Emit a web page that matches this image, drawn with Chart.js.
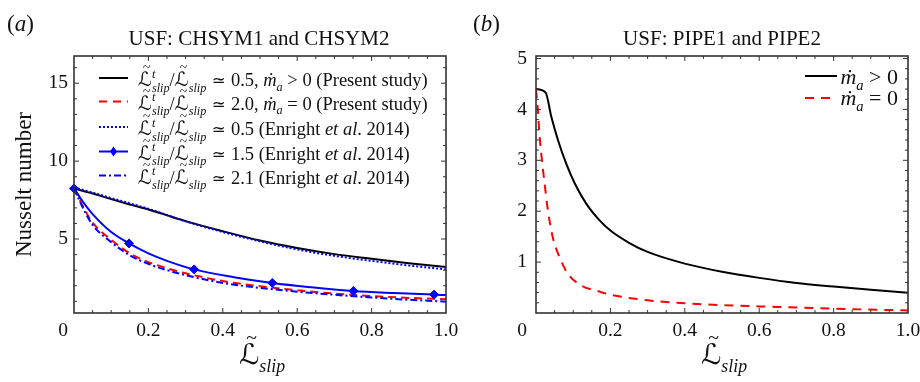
<!DOCTYPE html>
<html>
<head>
<meta charset="utf-8">
<script src="https://cdn.jsdelivr.net/npm/chart.js@4.4.1/dist/chart.umd.min.js"></script>
<style>
    html, body { margin: 0; padding: 0; background: #fff; }
    #wrap { position: relative; width: 920px; height: 382px; }
    #wrap canvas { position: absolute; top: 0; }
    #chartA { left: 0; }
    #chartB { left: 460px; }
</style>
</head>
<body>
<div id="wrap">
    <canvas id="chartA" width="460" height="382"></canvas>
    <canvas id="chartB" width="460" height="382"></canvas>
</div>
<script>
// ========================================
// DATA
// ========================================

// (a) USF: CHSYM1 and CHSYM2
const slipA = [0, 0.025, 0.05, 0.1, 0.15, 0.2, 0.25, 0.3, 0.4, 0.5, 0.6, 0.7, 0.8, 0.9, 1.0];
const nuPresentMdot = [8.25, 8.08, 7.92, 7.56, 7.22, 6.9, 6.52, 6.15, 5.5, 4.9, 4.42, 4.03, 3.73, 3.45, 3.2];
const nuPresentNoMdot = [8.25, 7.05, 6.05, 4.95, 4.08, 3.52, 3.12, 2.8, 2.3, 1.97, 1.71, 1.5, 1.34, 1.22, 1.13];
const nuEnright05 = [8.3, 8.15, 7.98, 7.63, 7.29, 6.94, 6.54, 6.13, 5.45, 4.85, 4.33, 3.92, 3.6, 3.3, 3.05];
const nuEnright21 = [8.25, 6.95, 5.9, 4.8, 3.95, 3.4, 3.0, 2.68, 2.18, 1.86, 1.62, 1.42, 1.25, 1.1, 0.98];
const slipEnright15 = [0, 0.025, 0.05, 0.1, 0.148, 0.2, 0.25, 0.323, 0.43, 0.533, 0.64, 0.751, 0.86, 0.968, 1.0];
const nuEnright15 = [8.25, 7.35, 6.6, 5.45, 4.72, 4.08, 3.6, 3.05, 2.55, 2.18, 1.9, 1.66, 1.53, 1.43, 1.4];
const markSlip15 = [0, 0.148, 0.323, 0.533, 0.751, 0.968];
const markNu15 = [8.25, 4.72, 3.05, 2.18, 1.66, 1.43];

// (b) USF: PIPE1 and PIPE2
const slipPipeMdot = [0, 0.026, 0.041, 0.059, 0.081, 0.104, 0.135, 0.171, 0.2, 0.25, 0.3, 0.4, 0.5, 0.6, 0.7, 0.8, 0.9, 1.0];
const nuPipeMdot = [4.4, 4.33, 3.86, 3.4, 2.94, 2.55, 2.15, 1.82, 1.62, 1.38, 1.2, 0.97, 0.81, 0.69, 0.59, 0.52, 0.455, 0.4];
const slipPipeNoMdot = [0, 0.005, 0.009, 0.016, 0.023, 0.032, 0.045, 0.063, 0.086, 0.122, 0.166, 0.2, 0.3, 0.4, 0.5, 0.6, 0.8, 1.0];
const nuPipeNoMdot = [4.4, 3.99, 3.53, 3.0, 2.55, 2.02, 1.49, 1.1, 0.77, 0.54, 0.43, 0.36, 0.25, 0.19, 0.155, 0.13, 0.085, 0.05];

// tick labels
const ticksX = [0.2, 0.4, 0.6, 0.8, 1.0];
const tickLabelsX = ['0.2', '0.4', '0.6', '0.8', '1.0'];
const ticksYA = [5, 10, 15];
const ticksYB = [1, 2, 3, 4, 5];

// ========================================
// TEXT HELPERS
// ========================================

const SERIF = '"Liberation Serif", "Times New Roman", serif';
const SCRIPT = '"DejaVu Serif", "DejaVu Sans", serif';
const INK = '#111';
const TICK_SIZE = 19.5;

function fnt(p) {
    return (p.i ? 'italic ' : '') + p.s + 'px ' + (p.f || SERIF);
}

// draws a run of styled pieces (sub/superscripts, italics) on one baseline
function drawRich(ctx, parts, x, y, align) {
    let cx = 0, pend = 0;
    const pos = [];
    parts.forEach(p => {
        ctx.font = fnt(p);
        const w = ctx.measureText(p.t).width;
        pos.push(cx);
        if (p.stack) { pend = w; }
        else { cx += Math.max(w, pend); pend = 0; }
    });
    const x0 = align === 'center' ? x - cx / 2 : (align === 'right' ? x - cx : x);
    ctx.textAlign = 'left';
    ctx.textBaseline = 'alphabetic';
    ctx.fillStyle = INK;
    parts.forEach((p, k) => {
        ctx.font = fnt(p);
        const px = x0 + pos[k], py = y + (p.dy || 0);
        ctx.fillText(p.t, px, py);
        if (p.tilde) {
            const w = ctx.measureText(p.t).width;
            ctx.font = fnt({ s: p.s * 0.7 });
            ctx.textAlign = 'center';
            ctx.fillText('~', px + w * 0.62, py - p.s * 0.72);
            ctx.textAlign = 'left';
        }
    });
    return cx;
}

function slipL(s, withT) {
    const sub = s * 0.66;
    const out = [{ t: 'ℒ', s: s * 1.05, f: SCRIPT, tilde: true }];
    if (withT) out.push({ t: 't', s: sub, i: true, dy: -s * 0.45, stack: true });
    out.push({ t: 'slip', s: sub, i: true, dy: s * 0.3 });
    return out;
}

function ratioParts(s, val) {
    return [...slipL(s, true), { t: '/', s }, ...slipL(s, false),
        { t: ' ≃ ', s: s * 0.9, f: SCRIPT }, { t: val, s }];
}

function mdotParts(s, rest) {
    return [{ t: 'ṁ', s, i: true }, { t: 'a', s: s * 0.66, i: true, dy: s * 0.25 }, { t: rest, s }];
}

function enrightParts(s) {
    return [{ t: ' (Enright ', s }, { t: 'et al', s, i: true }, { t: '. 2014)', s }];
}

function legendLine(ctx, x1, x2, y, color, dash, diamond) {
    ctx.save();
    ctx.strokeStyle = color;
    ctx.lineWidth = 2;
    ctx.setLineDash(dash);
    ctx.beginPath();
    ctx.moveTo(x1, y);
    ctx.lineTo(x2, y);
    ctx.stroke();
    if (diamond) {
        const cx = (x1 + x2) / 2;
        ctx.setLineDash([]);
        ctx.fillStyle = color;
        ctx.beginPath();
        ctx.moveTo(cx, y - 5); ctx.lineTo(cx + 3.5, y); ctx.lineTo(cx, y + 5); ctx.lineTo(cx - 3.5, y);
        ctx.closePath();
        ctx.fill();
    }
    ctx.restore();
}

// ========================================
// FRAME, INWARD TICKS, TICK LABELS AND TEXT
// ========================================

function panelDecor(cfg) {
    return {
        id: 'decor',
        afterDraw(chart) {
            const ctx = chart.ctx, a = chart.chartArea;
            const xs = chart.scales.x, ys = chart.scales.y;
            ctx.save();
            ctx.strokeStyle = '#333';
            ctx.lineWidth = 1.6;
            ctx.strokeRect(a.left, a.top, a.right - a.left, a.bottom - a.top);

            // minor / major tick marks on all four sides, pointing inward
            ctx.lineWidth = 1;
            ctx.beginPath();
            for (let k = 1; k * cfg.xStep < 1 - 1e-9; k++) {
                const px = xs.getPixelForValue(k * cfg.xStep);
                const len = k % cfg.xEvery === 0 ? 5 : 3;
                ctx.moveTo(px, a.bottom); ctx.lineTo(px, a.bottom - len);
                ctx.moveTo(px, a.top); ctx.lineTo(px, a.top + len);
            }
            for (let k = 1; k * cfg.yStep < ys.max - 1e-9; k++) {
                const v = k * cfg.yStep;
                if (v <= ys.min) continue;
                const py = ys.getPixelForValue(v);
                const len = k % cfg.yEvery === 0 ? 5 : 3;
                ctx.moveTo(a.left, py); ctx.lineTo(a.left + len, py);
                ctx.moveTo(a.right, py); ctx.lineTo(a.right - len, py);
            }
            ctx.stroke();

            // tick labels
            const labelY = a.bottom + 18;
            ctx.fillStyle = INK;
            ctx.font = fnt({ s: TICK_SIZE });
            ctx.textBaseline = 'middle';
            ctx.textAlign = 'center';
            ticksX.forEach((v, k) => ctx.fillText(tickLabelsX[k], xs.getPixelForValue(v), labelY));
            ctx.textAlign = 'right';
            cfg.yTicks.forEach(v => ctx.fillText(String(v), a.left - cfg.yPad, ys.getPixelForValue(v)));
            // shared origin label
            ctx.fillText('0', a.left - cfg.yPad, labelY);

            cfg.draw(ctx, a);
            ctx.restore();
        }
    };
}

function drawPanelA(ctx, a) {
    const mid = (a.left + a.right) / 2;
    drawRich(ctx, [{ t: '(', s: 23 }, { t: 'a', s: 23, i: true }, { t: ')', s: 23 }], 7, 31, 'left');
    drawRich(ctx, [{ t: 'USF: CHSYM1 and CHSYM2', s: 21 }], mid - 1, 45, 'center');
    drawRich(ctx, slipL(27, false), mid + 2, 364, 'center');

    ctx.save();
    ctx.translate(25, (a.top + a.bottom) / 2);
    ctx.rotate(-Math.PI / 2);
    ctx.font = fnt({ s: 23 });
    ctx.textAlign = 'center';
    ctx.textBaseline = 'middle';
    ctx.fillText('Nusselt number', 0, 0);
    ctx.restore();

    const s = 18.5;
    const rows = [
        { y: 78, parts: [...ratioParts(s, '0.5'), { t: ', ', s }, ...mdotParts(s, ' > 0 (Present study)')], color: '#000', dash: [] },
        { y: 101.5, parts: [...ratioParts(s, '2.0'), { t: ', ', s }, ...mdotParts(s, ' = 0 (Present study)')], color: '#ff0000', dash: [8, 6] },
        { y: 127, parts: [...ratioParts(s, '0.5'), ...enrightParts(s)], color: '#0000ff', dash: [2, 2] },
        { y: 151.5, parts: [...ratioParts(s, '1.5'), ...enrightParts(s)], color: '#0000ff', dash: [], diamond: true },
        { y: 175.5, parts: [...ratioParts(s, '2.1'), ...enrightParts(s)], color: '#0000ff', dash: [7, 3, 2, 3] }
    ];
    rows.forEach(r => {
        legendLine(ctx, 99, 128, r.y, r.color, r.dash, r.diamond);
        drawRich(ctx, r.parts, 138, r.y + 8, 'left');
    });
}

function drawPanelB(ctx, a) {
    const mid = (a.left + a.right) / 2;
    drawRich(ctx, [{ t: '(', s: 23 }, { t: 'b', s: 23, i: true }, { t: ')', s: 23 }], 13, 31, 'left');
    drawRich(ctx, [{ t: 'USF: PIPE1 and PIPE2', s: 21 }], mid, 45, 'center');
    drawRich(ctx, slipL(27, false), mid + 2, 364, 'center');

    legendLine(ctx, 345, 377, 76, '#000', []);
    drawRich(ctx, mdotParts(22, ' > 0'), 438, 84, 'right');
    legendLine(ctx, 345, 373, 98, '#ff0000', [9, 7]);
    drawRich(ctx, mdotParts(22, ' = 0'), 438, 105, 'right');
}

// ========================================
// CHARTS
// ========================================

function lineSet(xs, ys, color, dash, order) {
    return {
        data: xs.map((x, k) => ({ x, y: ys[k] })),
        borderColor: color,
        backgroundColor: color,
        borderWidth: 2,
        borderDash: dash,
        pointRadius: 0,
        fill: false,
        cubicInterpolationMode: 'monotone',
        order: order
    };
}

function panelOptions(yMin, yMax, pad) {
    return {
        responsive: false,
        animation: false,
        devicePixelRatio: 1,
        events: [],
        layout: { padding: pad },
        plugins: { legend: { display: false }, tooltip: { enabled: false }, title: { display: false } },
        scales: {
            x: { type: 'linear', min: 0, max: 1, display: false },
            y: { type: 'linear', min: yMin, max: yMax, display: false }
        }
    };
}

new Chart(document.getElementById('chartA'), {
    type: 'line',
    data: {
        datasets: [
            lineSet(slipA, nuPresentMdot, '#000000', [], 5),
            lineSet(slipA, nuPresentNoMdot, '#ff0000', [8, 5], 4),
            lineSet(slipA, nuEnright05, '#0000ff', [2, 2], 3),
            lineSet(slipEnright15, nuEnright15, '#0000ff', [], 2),
            lineSet(slipA, nuEnright21, '#0000ff', [7, 3, 2, 3], 1),
            {
                data: markSlip15.map((x, k) => ({ x, y: markNu15[k] })),
                showLine: false,
                pointStyle: 'rectRot',
                pointRadius: 4.5,
                pointBackgroundColor: '#0000ff',
                pointBorderColor: '#0000ff',
                pointBorderWidth: 1,
                clip: false,
                order: 0
            }
        ]
    },
    options: panelOptions(0.25, 16.75, { left: 74, right: 14, top: 56, bottom: 69 }),
    plugins: [panelDecor({ xStep: 0.05, xEvery: 4, yStep: 1, yEvery: 5, yTicks: ticksYA, yPad: 6, draw: drawPanelA })]
});

new Chart(document.getElementById('chartB'), {
    type: 'line',
    data: {
        datasets: [
            lineSet(slipPipeMdot, nuPipeMdot, '#000000', [], 2),
            lineSet(slipPipeNoMdot, nuPipeNoMdot, '#ff0000', [9, 7], 1)
        ]
    },
    options: panelOptions(0, 5.05, { left: 76, right: 12, top: 56, bottom: 69 }),
    plugins: [panelDecor({ xStep: 0.05, xEvery: 4, yStep: 0.2, yEvery: 5, yTicks: ticksYB, yPad: 9, draw: drawPanelB })]
});
</script>
</body>
</html>
